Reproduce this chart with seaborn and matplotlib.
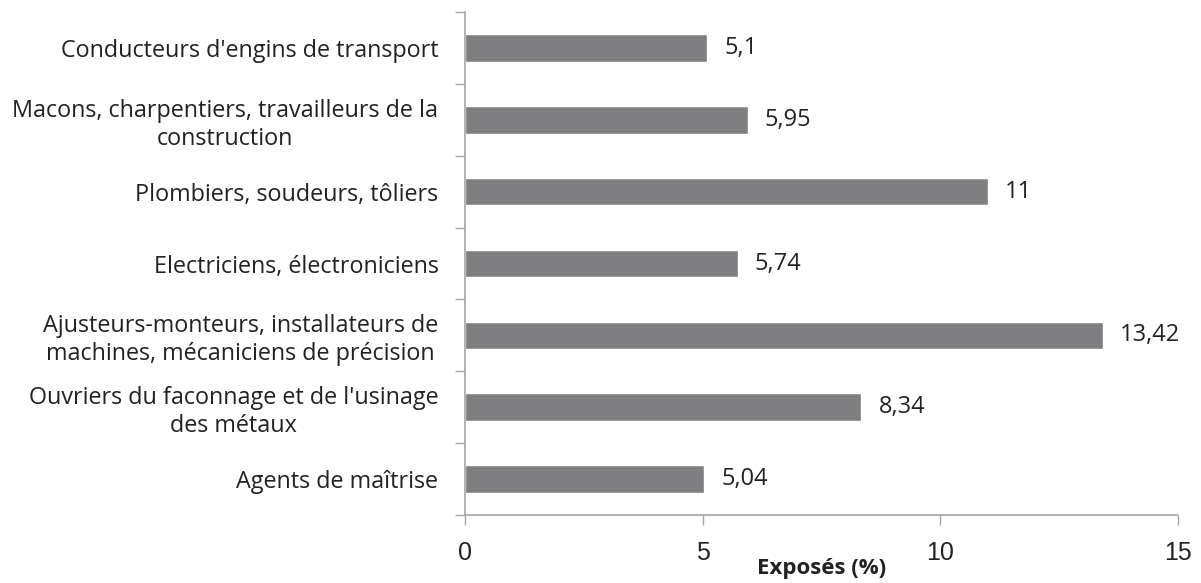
import matplotlib
matplotlib.use("Agg")
import matplotlib.pyplot as plt
import seaborn as sns
import pandas as pd
from matplotlib.ticker import FixedLocator

categories = [
    "Conducteurs d'engins de transport",
    "Macons, charpentiers, travailleurs de la\nconstruction",
    "Plombiers, soudeurs, tôliers",
    "Electriciens, électroniciens",
    "Ajusteurs-monteurs, installateurs de\nmachines, mécaniciens de précision",
    "Ouvriers du faconnage et de l'usinage\ndes métaux",
    "Agents de maîtrise",
]
values = [5.1, 5.95, 11, 5.74, 13.42, 8.34, 5.04]
x_ticks = [0, 5, 10, 15]

sns.set_theme(style="white")
plt.rcParams["font.family"] = ["Open Sans", "DejaVu Sans"]

df = pd.DataFrame({"cat": categories, "val": values})

fig = plt.figure(figsize=(12.01, 5.83), dpi=100, facecolor="white")
ax = fig.add_axes([0.387, 0.117, 0.594, 0.862])

sns.barplot(data=df, x="val", y="cat", orient="h", color="#7f7f82",
            saturation=1, width=0.38, ax=ax)

ax.set_xlim(0, 15)
ax.set_ylim(len(categories) - 0.5, -0.5)
ax.xaxis.set_major_locator(FixedLocator(x_ticks))
ax.set_xticklabels([str(t) for t in x_ticks], fontsize=18,
                   family=["Liberation Sans", "DejaVu Sans"], color="#222222")

# category separators as ticks
ax.yaxis.set_minor_locator(FixedLocator([i - 0.5 for i in range(len(categories) + 1)]))
ax.tick_params(axis="y", which="major", length=0, pad=19, labelsize=16.8, labelcolor="#222222")
ax.tick_params(axis="y", which="minor", left=True, length=7, width=1, color="#a6a6a6")
ax.tick_params(axis="x", which="major", bottom=True, length=7, width=1, color="#a6a6a6", pad=12)
for lbl in ax.get_yticklabels():
    lbl.set_multialignment("center")
    lbl.set_linespacing(1.2)

for s in ["top", "right"]:
    ax.spines[s].set_visible(False)
for s in ["left", "bottom"]:
    ax.spines[s].set_color("#a6a6a6")
    ax.spines[s].set_linewidth(1.2)

for i, v in enumerate(values):
    ax.text(v + 0.36, i, f"{v:g}".replace(".", ","), va="center", ha="left",
            fontsize=17, color="#222222")

ax.set_ylabel("")
ax.set_xlabel("Exposés (%)", fontsize=16, fontweight="bold", labelpad=-5, color="#222222")

fig.savefig("out.png", dpi=100, facecolor="white")
